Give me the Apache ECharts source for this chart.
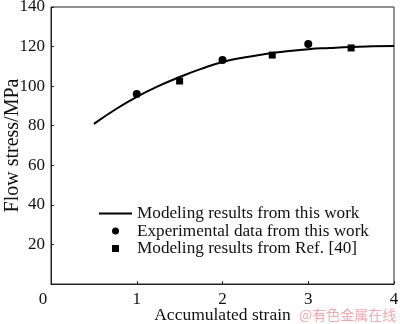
<!DOCTYPE html>
<html>
<head>
<meta charset="utf-8">
<script src="https://cdn.jsdelivr.net/npm/echarts@6/dist/echarts.min.js"></script>
<style>
  html, body { margin: 0; padding: 0; background: #fff; }
  #chart { width: 400px; height: 324px; }
</style>
</head>
<body>
<div id="chart"></div>
<script>
// Flow stress vs accumulated strain
const modelStrain = [0.5, 0.75, 1, 1.25, 1.5, 1.75, 2, 2.25, 2.5, 2.75, 3, 3.25, 3.5, 3.75, 4];
const modelStress = [80.9, 88.2, 94.6, 100.0, 104.6, 108.7, 112.2, 114.5, 116.2, 117.6, 118.7, 119.3, 119.8, 120.1, 120.3];

const expStrain = [1, 2, 3];
const expStress = [96.0, 113.2, 121.3];

const refStrain = [1.5, 2.58, 3.5];
const refStress = [102.6, 115.7, 119.3];

const xTicks = [0, 1, 2, 3, 4];
const yTicks = [0, 20, 40, 60, 80, 100, 120, 140];

const seriesNames = [
  'Modeling results from this work',
  'Experimental data from this work',
  'Modeling results from Ref. [40]'
];

const zip = (xs, ys) => xs.map((x, i) => [x, ys[i]]);
const serif = 'Liberation Serif';

const chart = echarts.init(document.getElementById('chart'), null, { renderer: 'canvas' });
chart.setOption({
  animation: false,
  backgroundColor: '#fff',
  grid: {
    left: 51, right: 6, top: 7, bottom: 40,
    outerBoundsMode: 'none', containLabel: false,
    show: true, borderColor: '#222', borderWidth: 1
  },
  xAxis: {
    type: 'value',
    min: xTicks[0], max: xTicks[xTicks.length - 1], interval: 1,
    name: 'Accumulated strain',
    nameLocation: 'middle', nameGap: 22, nameMoveOverlap: false,
    nameTextStyle: { fontFamily: serif, fontSize: 17.5, color: '#111', verticalAlign: 'top' },
    axisLine: { show: true, lineStyle: { color: '#222', width: 1 } },
    axisTick: { show: true, inside: true, length: 3, lineStyle: { color: '#222' } },
    axisLabel: {
      fontFamily: serif, fontSize: 17, color: '#111', margin: 7,
      // the shared origin label sits at the corner, left of the axis
      formatter: v => (v === xTicks[0] ? '{origin|' + v + '}' : String(v)),
      rich: { origin: { fontFamily: serif, fontSize: 17, color: '#111', padding: [0, 16, 0, 0] } }
    },
    splitLine: { show: false }
  },
  yAxis: {
    type: 'value',
    min: yTicks[0], max: yTicks[yTicks.length - 1], interval: 20,
    name: 'Flow stress/MPa',
    nameLocation: 'middle', nameGap: 28, nameMoveOverlap: false,
    nameTextStyle: { fontFamily: serif, fontSize: 20, color: '#111' },
    axisLine: { show: true, lineStyle: { color: '#222', width: 1 } },
    axisTick: { show: true, inside: true, length: 3, lineStyle: { color: '#222' } },
    axisLabel: { fontFamily: serif, fontSize: 17, color: '#111', margin: 6, showMinLabel: false },
    splitLine: { show: false }
  },
  legend: {
    orient: 'vertical',
    left: 93, top: 200,
    itemWidth: 33, itemHeight: 7, itemGap: 0.5, itemTextGap: 8,
    textStyle: { fontFamily: serif, fontSize: 17.2, color: '#111', lineHeight: 17 },
    data: [
      { name: seriesNames[0], itemStyle: { color: 'rgba(0,0,0,0)', borderWidth: 0 } },
      { name: seriesNames[1], icon: 'circle' },
      { name: seriesNames[2], icon: 'path://M0,0L1,0L1,1L0,1Z' }
    ]
  },
  graphic: [{
    type: 'text', left: 299, top: 308,
    style: { text: '@有色金属在线', fontFamily: 'Noto Sans CJK SC', fontSize: 14, fill: '#f2a9ad' }
  }],
  series: [
    {
      name: seriesNames[0], type: 'line', smooth: true, symbol: 'none',
      data: zip(modelStrain, modelStress),
      lineStyle: { color: '#000', width: 2 }, itemStyle: { color: '#000' }
    },
    {
      name: seriesNames[1], type: 'scatter', symbol: 'circle', symbolSize: 8,
      data: zip(expStrain, expStress), itemStyle: { color: '#000', opacity: 1 }
    },
    {
      name: seriesNames[2], type: 'scatter', symbol: 'rect', symbolSize: 7,
      data: zip(refStrain, refStress), itemStyle: { color: '#000', opacity: 1 }
    }
  ]
});
</script>
</body>
</html>
